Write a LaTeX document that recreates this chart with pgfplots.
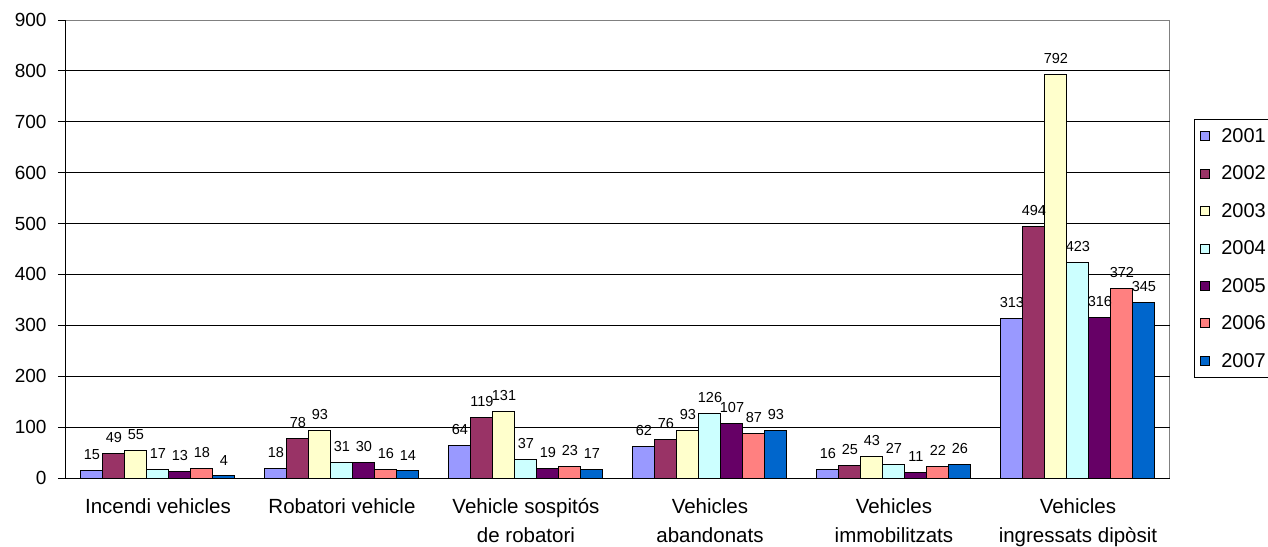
\documentclass[border=0pt]{standalone}
\usepackage{pgfplots}
\pgfplotsset{compat=1.18}
\usepackage{fontspec}
\setmainfont{Liberation Sans}
\definecolor{c1}{HTML}{9999FF}
\definecolor{c2}{HTML}{993366}
\definecolor{c3}{HTML}{FFFFCC}
\definecolor{c4}{HTML}{CCFFFF}
\definecolor{c5}{HTML}{660066}
\definecolor{c6}{HTML}{FF8080}
\definecolor{c7}{HTML}{0066CC}
\begin{document}
\begin{tikzpicture}
\begin{axis}[
  at={(0pt,0pt)}, anchor=south west,
  scale only axis, width=1104pt, height=458pt,
  ybar=0pt, bar width=22pt,
  xmin=-0.5, xmax=5.5, ymin=0, ymax=900,
  ytick={0,100,...,900},
  xtick={0,1,2,3,4,5},
  xticklabels={Incendi vehicles, Robatori vehicle, Vehicle sospitós\\de robatori, Vehicles\\abandonats, Vehicles\\immobilitzats, Vehicles\\ingressats dipòsit},
  xticklabel style={align=center, font=\fontsize{20.5}{29}\selectfont, yshift=-9pt},
  yticklabel style={font=\fontsize{19}{20}\selectfont, xshift=-8pt},
  /pgf/number format/assume math mode=true,
  major x tick style={draw=none},
  extra x ticks={-0.5,0.5,1.5,2.5,3.5,4.5,5.5},
  extra x tick labels={},
  extra x tick style={major tick length=7pt, tick style={black, line width=0.8pt}, tick align=outside, grid=none},
  ytick style={black, line width=0.8pt},
  major tick length=8pt, tick align=outside, tick pos=left,
  extra y ticks={100,200,...,800}, extra y tick labels={},
  extra y tick style={grid=major, major tick length=0pt},
  grid style={black, line width=0.8pt},
  axis line style={gray, line width=1pt},
  nodes near coords,
  every node near coord/.append style={font=\fontsize{14.5}{14.5}\selectfont, yshift=7pt, /pgf/number format/assume math mode=true},
  legend style={at={(1.0217,0.7838)}, anchor=north west, draw=black, line width=0.8pt, font=\fontsize{20}{22}\selectfont, row sep=18pt, inner xsep=5pt, inner ysep=7pt, legend cell align=left},
  legend image code/.code={\draw[#1, line width=1pt] (1pt,-4.5pt) rectangle (10pt,4.5pt); \path[draw=none, fill=none] (0pt,0pt) -- (20pt,0pt);},
  clip=false,
]
\addplot[fill=c1, draw=black, line width=1pt] coordinates {(0,15) (1,18) (2,64) (3,62) (4,16) (5,313)};
\addplot[fill=c2, draw=black, line width=1pt] coordinates {(0,49) (1,78) (2,119) (3,76) (4,25) (5,494)};
\addplot[fill=c3, draw=black, line width=1pt] coordinates {(0,55) (1,93) (2,131) (3,93) (4,43) (5,792)};
\addplot[fill=c4, draw=black, line width=1pt] coordinates {(0,17) (1,31) (2,37) (3,126) (4,27) (5,423)};
\addplot[fill=c5, draw=black, line width=1pt] coordinates {(0,13) (1,30) (2,19) (3,107) (4,11) (5,316)};
\addplot[fill=c6, draw=black, line width=1pt] coordinates {(0,18) (1,16) (2,23) (3,87) (4,22) (5,372)};
\addplot[fill=c7, draw=black, line width=1pt] coordinates {(0,4) (1,14) (2,17) (3,93) (4,26) (5,345)};
\legend{2001,2002,2003,2004,2005,2006,2007}
\draw[black, line width=1pt] (rel axis cs:0,1) -- (rel axis cs:0,0) -- (rel axis cs:1,0);
\end{axis}
\pgfresetboundingbox
\useasboundingbox (-66pt,-68pt) rectangle (1202pt,478pt);
\end{tikzpicture}
\end{document}
